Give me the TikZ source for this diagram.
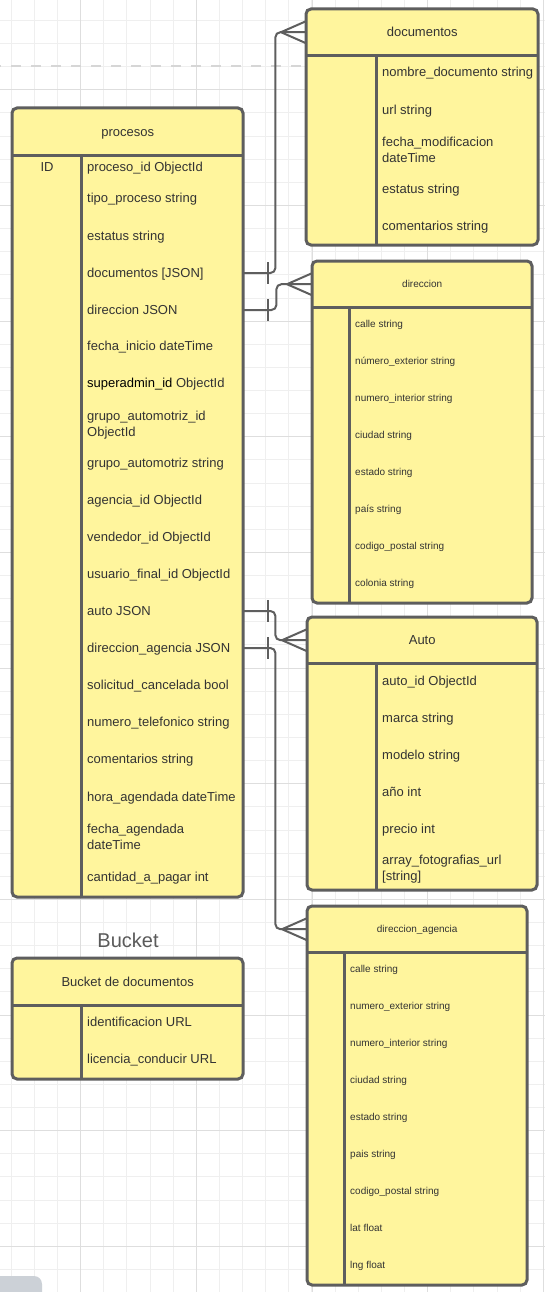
\documentclass[tikz,border=0pt]{standalone}
\usepackage{fontspec}
\setmainfont{Liberation Sans}
\usetikzlibrary{arrows.meta}

\definecolor{entityfill}{HTML}{FFF59D}
\definecolor{entityline}{HTML}{5E5E5E}
\definecolor{attrtext}{HTML}{333333}
\definecolor{gridminor}{HTML}{EFEFEF}
\definecolor{gridmajor}{HTML}{DEDEDE}
\definecolor{dashgray}{HTML}{D6D6D6}
\definecolor{scrollgray}{HTML}{CCD1D7}
\definecolor{labelgray}{HTML}{5A5A5A}

\begin{document}
\begin{tikzpicture}[
    x=1pt, y=-1pt,
    entity/.style={draw=entityline, line width=3pt, fill=entityfill, rounded corners=5pt},
    divider/.style={draw=entityline, line width=3pt},
    header/.style={anchor=north west, inner sep=0pt, minimum height=46pt,
                   text=attrtext, font=\fontsize{13}{16}\selectfont,
                   text height=9.3pt, text depth=0pt},
    headersmall/.style={header, font=\fontsize{10}{12}\selectfont, text height=7.2pt},
    attr/.style={anchor=west, inner sep=0pt, text=attrtext,
                 font=\fontsize{13}{16}\selectfont, text height=9.3pt, text depth=0pt},
    attrtwo/.style={anchor=west, inner sep=0pt, text=attrtext, align=left,
                    font=\fontsize{13}{16}\selectfont},
    attrsmall/.style={attr, font=\fontsize{10}{12}\selectfont, text height=7.2pt},
    relation/.style={draw=entityline, line width=2pt, rounded corners=5pt},
    crow/.style={draw=entityline, line width=2pt, line join=round},
    gridline/.style={draw=gridminor, line width=1pt}
]
\useasboundingbox (0,0) rectangle (545,1292);

% Cuadricula
\fill[white] (0,0) rectangle (545,1292);
\foreach \gx in {0,...,23}
  \draw[gridline] ({11.3+23.13*\gx},0) -- ({11.3+23.13*\gx},1292);
\foreach \gy in {0,...,54}
  \draw[gridline] (0,{20.46+23.13*\gy}) -- (545,{20.46+23.13*\gy});
\foreach \gx in {80.7,196.3,312,427.6,543.3}
  \draw[gridline, draw=gridmajor] (\gx,0) -- (\gx,1292);
\foreach \gy in {0,...,10}
  \draw[gridline, draw=gridmajor] (0,{89.85+115.65*\gy}) -- (545,{89.85+115.65*\gy});

\draw[dashgray, line width=2.5pt, dash pattern=on 10pt off 10pt, dash phase=9pt] (0,66) -- (306,66);
\fill[scrollgray, rounded corners=8pt] (-10,1276) rectangle (42,1300);

% procesos
\draw[entity] (12,108) rectangle (243,897);
\node[header, minimum width=231pt, minimum height=47pt] (procesos) at (12,108) {procesos};
\draw[divider] (procesos.south west) -- (procesos.south east);
\draw[divider] (81,155) -- (81,897);
\node[attr, anchor=center] (pid) at (47,167) {ID};
\node[attr] (p1)  at (87,167) {proceso\_id ObjectId};
\node[attr] (p2)  at (87,198) {tipo\_proceso string};
\node[attr] (p3)  at (87,236) {estatus string};
\node[attr] (p4)  at (87,273) {documentos [JSON]};
\node[attr] (p5)  at (87,310) {direccion JSON};
\node[attr] (p6)  at (87,346) {fecha\_inicio dateTime};
\node[attr] (p7)  at (87,383) {\textcolor{black}{superadmin\_id} ObjectId};
\node[attrtwo] (p8) at (87,425) {grupo\_automotriz\_id\\ObjectId};
\node[attr] (p9)  at (87,463) {grupo\_automotriz string};
\node[attr] (p10) at (87,500) {agencia\_id ObjectId};
\node[attr] (p11) at (87,537) {vendedor\_id ObjectId};
\node[attr] (p12) at (87,574) {usuario\_final\_id ObjectId};
\node[attr] (p13) at (87,611) {auto JSON};
\node[attr] (p14) at (87,648) {direccion\_agencia JSON};
\node[attr] (p15) at (87,685) {solicitud\_cancelada bool};
\node[attr] (p16) at (87,722) {numero\_telefonico string};
\node[attr] (p17) at (87,759) {comentarios string};
\node[attr] (p18) at (87,797) {hora\_agendada dateTime};
\node[attrtwo] (p19) at (87,837) {fecha\_agendada\\dateTime};
\node[attr] (p20) at (87,877) {cantidad\_a\_pagar int};

% documentos
\draw[entity] (306,9) rectangle (538,245);
\node[header, minimum width=232pt] (documentos) at (306,9) {documentos};
\draw[divider] (documentos.south west) -- (documentos.south east);
\draw[divider] (376,55) -- (376,245);
\node[attr] (d1) at (382,72)  {nombre\_documento string};
\node[attr] (d2) at (382,110) {url string};
\node[attrtwo] (d3) at (382,150) {fecha\_modificacion\\dateTime};
\node[attr] (d4) at (382,189) {estatus string};
\node[attr] (d5) at (382,226) {comentarios string};

% direccion
\draw[entity] (312,261) rectangle (532,603);
\node[headersmall, minimum width=220pt] (direccion) at (312,261) {direccion};
\draw[divider] (direccion.south west) -- (direccion.south east);
\draw[divider] (349,307) -- (349,603);
\node[attrsmall] (r1) at (355,324) {calle string};
\node[attrsmall] (r2) at (355,361) {número\_exterior string};
\node[attrsmall] (r3) at (355,398) {numero\_interior string};
\node[attrsmall] (r4) at (355,435) {ciudad string};
\node[attrsmall] (r5) at (355,472) {estado string};
\node[attrsmall] (r6) at (355,509) {país string};
\node[attrsmall] (r7) at (355,546) {codigo\_postal string};
\node[attrsmall] (r8) at (355,583) {colonia string};

% Auto
\draw[entity] (307,617) rectangle (537,890);
\node[header, minimum width=230pt] (auto) at (307,617) {Auto};
\draw[divider] (auto.south west) -- (auto.south east);
\draw[divider] (376,663) -- (376,890);
\node[attr] (a1) at (382,681) {auto\_id ObjectId};
\node[attr] (a2) at (382,718) {marca string};
\node[attr] (a3) at (382,755) {modelo string};
\node[attr] (a4) at (382,792) {año int};
\node[attr] (a5) at (382,829) {precio int};
\node[attrtwo] (a6) at (382,869) {array\_fotografias\_url\\{[string]}};

% direccion_agencia
\draw[entity] (307,906) rectangle (527,1285);
\node[headersmall, minimum width=220pt] (diragencia) at (307,906) {direccion\_agencia};
\draw[divider] (diragencia.south west) -- (diragencia.south east);
\draw[divider] (344,952) -- (344,1285);
\node[attrsmall] (g1) at (350,969)  {calle string};
\node[attrsmall] (g2) at (350,1006) {numero\_exterior string};
\node[attrsmall] (g3) at (350,1043) {numero\_interior string};
\node[attrsmall] (g4) at (350,1080) {ciudad string};
\node[attrsmall] (g5) at (350,1117) {estado string};
\node[attrsmall] (g6) at (350,1154) {pais string};
\node[attrsmall] (g7) at (350,1191) {codigo\_postal string};
\node[attrsmall] (g8) at (350,1228) {lat float};
\node[attrsmall] (g9) at (350,1265) {lng float};

% Bucket
\node[text=labelgray, font=\fontsize{20}{24}\selectfont] (bucket) at (128,940) {Bucket};
\draw[entity] (12,958) rectangle (243,1079);
\node[header, minimum width=231pt, minimum height=47pt] (bucketdocs) at (12,958) {Bucket de documentos};
\draw[divider] (bucketdocs.south west) -- (bucketdocs.south east);
\draw[divider] (81,1005) -- (81,1079);
\node[attr] (b1) at (87,1022) {identificacion URL};
\node[attr] (b2) at (87,1059) {licencia\_conducir URL};

% Relaciones
\coordinate (c1) at (p4 -| procesos.east);
\draw[relation] (c1) -- ++(32,0) |- (documentos.west);
\draw[crow] ([xshift=25pt,yshift=11pt]c1) -- ++(0,22);
\draw[crow] ([yshift=11pt]documentos.west) -- ([xshift=-25pt]documentos.west) -- ([yshift=-11pt]documentos.west);

\coordinate (c2) at (p5 -| procesos.east);
\draw[relation] (c2) -- ++(33,0) |- (direccion.west);
\draw[crow] ([xshift=25pt,yshift=11pt]c2) -- ++(0,22);
\draw[crow] ([yshift=11pt]direccion.west) -- ([xshift=-25pt]direccion.west) -- ([yshift=-11pt]direccion.west);

\coordinate (c3) at (p13 -| procesos.east);
\draw[relation] (c3) -- ++(32,0) |- (auto.west);
\draw[crow] ([xshift=25pt,yshift=11pt]c3) -- ++(0,22);
\draw[crow] ([yshift=11pt]auto.west) -- ([xshift=-25pt]auto.west) -- ([yshift=-11pt]auto.west);

\coordinate (c4) at (p14 -| procesos.east);
\draw[relation] (c4) -- ++(32,0) |- (diragencia.west);
\draw[crow] ([xshift=25pt,yshift=11pt]c4) -- ++(0,22);
\draw[crow] ([yshift=11pt]diragencia.west) -- ([xshift=-25pt]diragencia.west) -- ([yshift=-11pt]diragencia.west);

\end{tikzpicture}
\end{document}
